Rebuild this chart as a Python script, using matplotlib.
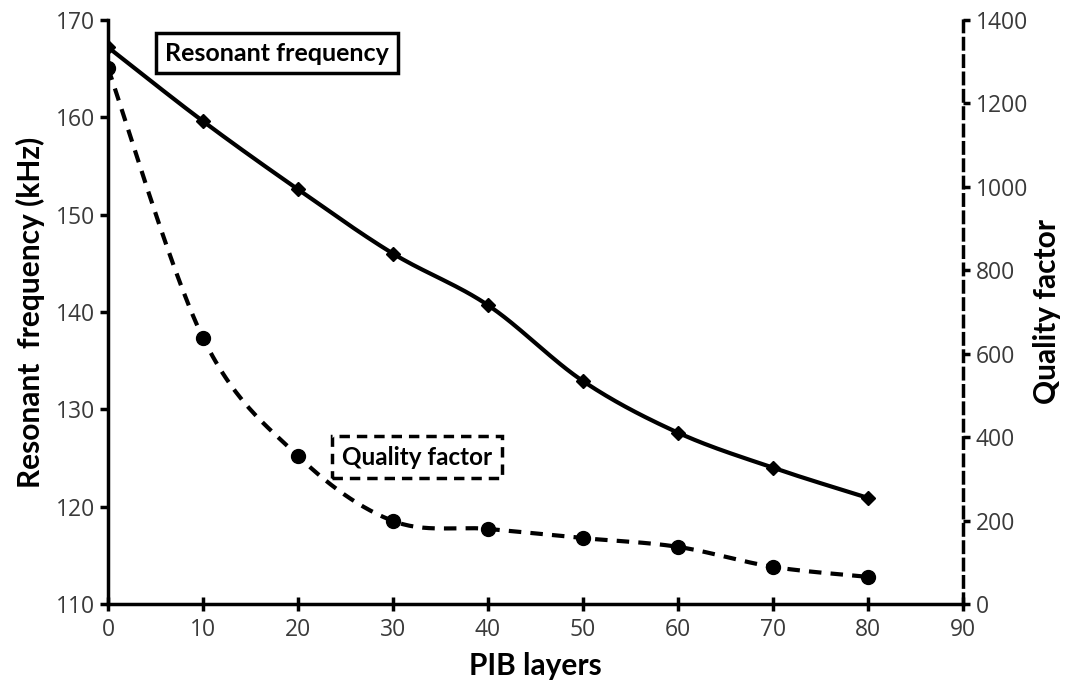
import numpy as np
import matplotlib
matplotlib.use("Agg")
import matplotlib.pyplot as plt

layers = [0, 10, 20, 30, 40, 50, 60, 70, 80]
res_freq = [167.2, 159.6, 152.6, 146.0, 140.7, 132.9, 127.6, 124.0, 120.9]
q_factor = [1285, 638, 355, 199, 180, 158, 137, 89, 65]
x_ticks = [0, 10, 20, 30, 40, 50, 60, 70, 80, 90]
left_ticks = [110, 120, 130, 140, 150, 160, 170]
right_ticks = [0, 200, 400, 600, 800, 1000, 1200, 1400]


def smooth(x, y, n=30):
    # Catmull-Rom style smoothing (like Excel "smoothed line")
    x = np.asarray(x, float); y = np.asarray(y, float)
    P = np.column_stack([x, y])
    P = np.vstack([P[0], P, P[-1]])
    out = []
    for i in range(1, len(P) - 2):
        p0, p1, p2, p3 = P[i - 1], P[i], P[i + 1], P[i + 2]
        t = np.linspace(0, 1, n)[:, None]
        c1 = p1 + (p2 - p0) / 6
        c2 = p2 - (p3 - p1) / 6
        seg = ((1 - t) ** 3) * p1 + 3 * ((1 - t) ** 2) * t * c1 + 3 * (1 - t) * t ** 2 * c2 + t ** 3 * p2
        out.append(seg)
    out = np.vstack(out)
    return out[:, 0], out[:, 1]


plt.rcParams['font.family'] = ['Open Sans', 'DejaVu Sans']
fig = plt.figure(figsize=(10.66, 6.83), dpi=100)
ax = fig.add_axes([108 / 1066, 1 - 604 / 683, (963 - 108) / 1066, (604 - 20) / 683])
ax2 = ax.twinx()

sx, sy = smooth(layers, res_freq)
ax.plot(sx, sy, color='black', lw=3, solid_capstyle='butt', zorder=3)
ax.plot(layers, res_freq, linestyle='none', marker='D', ms=7, color='black', zorder=4)

qx, qy = smooth(layers, q_factor)
ax2.plot(qx, qy, color='black', lw=3, linestyle=(0, (3, 2.2)), zorder=3)
ax2.plot(layers, q_factor, linestyle='none', marker='o', ms=10, color='black', zorder=4)

ax.set_xlim(0, 90)
ax.set_ylim(110, 170)
ax2.set_ylim(0, 1400)
ax.set_xticks(x_ticks)
ax.set_yticks(left_ticks)
ax2.set_yticks(right_ticks)

for a in (ax, ax2):
    a.spines['top'].set_visible(False)
ax.spines['right'].set_visible(False)
ax2.spines['left'].set_visible(False)
ax2.spines['bottom'].set_visible(False)
ax.spines['left'].set_linewidth(2.5)
ax.spines['bottom'].set_linewidth(2.5)
ax2.spines['right'].set_linewidth(2.5)
ax2.spines['right'].set_linestyle((0, (3, 2)))

ax.tick_params(axis='both', direction='out', length=6, width=2.5, labelsize=16.5, colors='black', pad=3)
ax.tick_params(axis='x', direction='inout', length=10, pad=5)
ax2.tick_params(axis='y', direction='out', length=5, width=2.5, labelsize=16.5, pad=4)
for lab in ax.get_xticklabels() + ax.get_yticklabels() + ax2.get_yticklabels():
    lab.set_color('#3a3a3a')

lab_font = dict(family=['Lato', 'DejaVu Sans'], fontweight='bold', fontsize=21.5)
ax.set_xlabel('PIB layers', labelpad=7, **lab_font)
ax.set_ylabel('Resonant  frequency (kHz)', labelpad=8, **lab_font)
ax2.set_ylabel('Quality factor', labelpad=4, **lab_font)

ax.text(6.0, 166.6, 'Resonant frequency', fontsize=18, fontweight='bold', family=['Lato', 'DejaVu Sans'],
        va='center', ha='left',
        bbox=dict(boxstyle='square,pad=0.35', fc='white', ec='black', lw=2.5), zorder=5)
ax2.text(24.6, 352, 'Quality factor', fontsize=17.5, fontweight='bold', family=['Lato', 'DejaVu Sans'],
         va='center', ha='left',
         bbox=dict(boxstyle='square,pad=0.4', fc='white', ec='black', lw=2.5, ls=(0, (3, 2))), zorder=5)

fig.savefig('out.png', dpi=100, facecolor='white')
